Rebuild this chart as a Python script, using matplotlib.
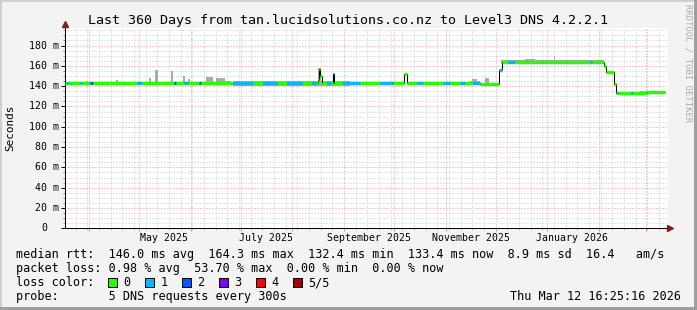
import datetime as dt
from bisect import bisect_right

import matplotlib
matplotlib.use("Agg")
import matplotlib.pyplot as plt
import matplotlib.dates as mdates
from matplotlib.patches import Rectangle
from matplotlib.ticker import MultipleLocator
from matplotlib.transforms import ScaledTranslation

# %%
# chart data

TITLE = "Last 360 Days from tan.lucidsolutions.co.nz to Level3 DNS 4.2.2.1"
START = dt.datetime(2025, 3, 17, 16, 25, 16)
SPAN_DAYS = 361.8

# median rtt in ms, step series: edges are day offsets from START
MEDIAN_EDGES = [0.0, 100.8, 151.8, 152.4, 153.0, 154.2, 160.5, 161.1, 203.1, 204.9,
                249.0, 260.1, 261.9, 323.6, 324.6, 329.6, 330.4, 349.2, 360.0]
MEDIAN_MS = [143.5, 142.8, 146.0, 157.0, 150.5, 142.8, 151.5, 142.8, 152.0,
             142.8, 142.0, 156.0, 164.0, 160.0, 154.0, 142.0, 133.0, 134.0]

# periods with packet loss (everything else is loss 0)
LOSS_START = [1.0, 9.0, 15.0, 43.2, 65.4, 71.4, 80.4, 100.8, 118.8, 133.2, 148.2, 157.2,
              160.5, 166.8, 189.0, 196.2, 211.2, 226.8, 237.0, 244.8, 260.1, 265.8,
              315.0, 331.0, 339.6]
LOSS_END = [2.4, 10.2, 16.6, 46.2, 66.6, 73.8, 81.6, 112.8, 127.2, 142.2, 150.6, 159.6,
            161.1, 177.0, 196.2, 196.8, 214.8, 231.0, 240.0, 249.0, 261.9, 270.0,
            316.2, 332.0, 340.8]
LOSS_LEVEL = [1, 1, 2, 1, 2, 1, 2, 1, 1, 1, 1, 1,
              2, 1, 1, 2, 1, 1, 1, 1, 1, 1,
              1, 1, 1]

# smoke (spread of the single pings) in ms
SMOKE_START = [12.6, 30.6, 50.4, 54.0, 63.6, 70.8, 73.8, 84.6, 90.6, 96.0, 100.8, 151.8,
               243.0, 244.2, 252.0, 261.6, 262.0, 276.0, 293.4, 330.4, 345.0]
SMOKE_END = [13.8, 31.8, 51.6, 55.8, 64.8, 72.0, 75.0, 88.8, 96.0, 99.0, 171.0, 153.6,
             249.0, 247.2, 254.4, 267.6, 323.6, 282.0, 294.0, 360.0, 360.0]
SMOKE_LOW = [142.0, 142.0, 142.0, 142.0, 142.0, 142.0, 142.0, 142.0, 142.0, 142.0, 140.5, 143.0,
             141.0, 141.0, 141.0, 162.0, 162.5, 162.0, 162.0, 132.0, 132.0]
SMOKE_HIGH = [145.5, 146.0, 147.7, 156.0, 155.0, 150.0, 147.0, 148.7, 148.0, 145.5, 145.5, 157.5,
              145.5, 147.0, 147.7, 166.0, 165.5, 166.8, 169.8, 134.5, 135.5]

LOSS_COLORS = ["#26ff00", "#00b8ff", "#0059ff", "#7e00ff", "#ff0000", "#a10000"]
LOSS_LABELS = ["0", "1", "2", "3", "4", "5/5"]

Y_TICKS = [0, 20, 40, 60, 80, 100, 120, 140, 160, 180]
Y_MAX = 197.6
MONTH_LABELS = ["May 2025", "July 2025", "September 2025", "November 2025", "January 2026"]
MONTH_LABEL_DATES = [dt.datetime(2025, 5, 16), dt.datetime(2025, 7, 16), dt.datetime(2025, 9, 16),
                     dt.datetime(2025, 11, 16), dt.datetime(2026, 1, 16)]

LEGEND_LINES = [
    "median rtt:  146.0 ms avg  164.3 ms max  132.4 ms min  133.4 ms now  8.9 ms sd  16.4   am/s",
    "packet loss: 0.98 % avg  53.70 % max  0.00 % min  0.00 % now",
    "loss color:",
    "probe:       5 DNS requests every 300s",
]
STAMP = "Thu Mar 12 16:25:16 2026"

# %%
# figure setup

plt.rcParams["font.family"] = ["DejaVu Sans Mono"]
W, H = 697, 310
fig = plt.figure(figsize=(W / 100, H / 100), dpi=100, facecolor="#f3f3f3")

ax = fig.add_axes([65 / W, (H - 228.3) / H, 603 / W, 200.6 / H])
ax.set_facecolor("white")
t0 = mdates.date2num(START)
ax.set_xlim(t0, t0 + SPAN_DAYS)
ax.set_ylim(0, Y_MAX)

# grid
ax.xaxis.set_major_locator(mdates.MonthLocator())
ax.xaxis.set_minor_locator(mdates.WeekdayLocator(byweekday=mdates.MO))
ax.yaxis.set_major_locator(MultipleLocator(20))
ax.yaxis.set_minor_locator(MultipleLocator(5))
ax.grid(which="minor", color="#c8c8c8", lw=0.72, ls=(0, (1, 2)))
ax.grid(which="major", color="#ff9090", lw=0.72, ls=(0, (1, 2)))
ax.set_axisbelow(True)
ax.tick_params(labelbottom=False, labelleft=False)
ax.tick_params(axis="x", which="major", length=2.2, width=0.72, color="#ff8080")
ax.tick_params(axis="x", which="minor", length=1.4, width=0.72, color="#c0c0c0")
ax.tick_params(axis="y", which="major", length=2.9, width=0.72, color="black")
ax.tick_params(axis="y", which="minor", length=1.4, width=0.72, color="#909090")
for side in ("top", "right"):
    ax.spines[side].set_visible(False)
for side in ("left", "bottom"):
    ax.spines[side].set_linewidth(0.72)

# %%
# smoke, median line and loss colours

ax.bar([t0 + s for s in SMOKE_START],
       [h - l for l, h in zip(SMOKE_LOW, SMOKE_HIGH)],
       width=[e - s for s, e in zip(SMOKE_START, SMOKE_END)],
       bottom=SMOKE_LOW, align="edge", color="#a9a9a9", linewidth=0, zorder=2)

ax.stairs(MEDIAN_MS, [t0 + d for d in MEDIAN_EDGES], baseline=None,
          color="black", lw=0.72, zorder=3)

edges = sorted(set(MEDIAN_EDGES + LOSS_START + LOSS_END))
seg_y, seg_x0, seg_x1, seg_c = [], [], [], []
for a, b in zip(edges[:-1], edges[1:]):
    mid = (a + b) / 2
    i = bisect_right(MEDIAN_EDGES, mid) - 1
    if i >= len(MEDIAN_MS):
        continue
    level = 0
    for s, e, l in zip(LOSS_START, LOSS_END, LOSS_LEVEL):
        if s <= mid < e:
            level = l
    seg_y.append(MEDIAN_MS[i])
    seg_x0.append(t0 + a)
    seg_x1.append(t0 + b)
    seg_c.append(LOSS_COLORS[level])
ax.hlines(seg_y, seg_x0, seg_x1, colors=seg_c, lw=2.5, capstyle="butt", zorder=4)

# axis arrows
arrow_c = "#8b1c1c"
ax.plot([0], [1], marker="^", ms=4.3, color=arrow_c, clip_on=False, zorder=6,
        transform=ax.transAxes + ScaledTranslation(0, 0.035, fig.dpi_scale_trans))
ax.plot([1], [0], marker=">", ms=4.3, color=arrow_c, clip_on=False, zorder=6,
        transform=ax.transAxes + ScaledTranslation(0.023, 0, fig.dpi_scale_trans))

# y labels (zero has no unit, so it sits further left)
for v in Y_TICKS:
    label = f"{v} m" if v else "0"
    shift = -0.057 if v else -0.175
    ax.text(0, v, label, ha="right", va="center", fontsize=7.1,
            transform=ax.get_yaxis_transform() + ScaledTranslation(shift, 0, fig.dpi_scale_trans))

for d, label in zip(MONTH_LABEL_DATES, MONTH_LABELS):
    ax.text(mdates.date2num(d), 0, label, ha="center", va="baseline", fontsize=7.1,
            transform=ax.get_xaxis_transform() + ScaledTranslation(0, -0.127, fig.dpi_scale_trans))

# %%
# texts and frame around the plot, in pixel coordinates

ov = fig.add_axes([0, 0, 1, 1], zorder=5)
ov.set_xlim(0, W)
ov.set_ylim(H, 0)
ov.axis("off")

ov.text(347.5, 24, TITLE, ha="center", va="baseline", fontsize=9.6)
ov.text(10.5, 128, "Seconds", rotation=90, ha="center", va="center", fontsize=7.9)
ov.text(688.3, 63.5, "RRDTOOL / TOBI OETIKER", rotation=270, ha="center", va="center",
        fontsize=6.4, color="#ababab")

for k, line in enumerate(LEGEND_LINES):
    ov.text(16, 258 + 14 * k, line, ha="left", va="baseline", fontsize=8.5)
ov.text(681, 300, STAMP, ha="right", va="baseline", fontsize=8.5)

for k, (c, lab) in enumerate(zip(LOSS_COLORS, LOSS_LABELS)):
    x = 108.3 + 37 * k
    ov.add_patch(Rectangle((x, 278), 8.5, 8.5, facecolor=c, edgecolor="black", lw=0.72))
    ov.text(x + 15, 286, lab, ha="left", va="baseline", fontsize=8.5)

# shaded border
ov.add_patch(Rectangle((0, 0), W, 2, color="#cfcfcf", lw=0))
ov.add_patch(Rectangle((0, 0), 2, H, color="#cfcfcf", lw=0))
ov.add_patch(Rectangle((0, H - 3), W, 3, color="#9e9e9e", lw=0))
ov.add_patch(Rectangle((W - 3, 0), 3, H, color="#9e9e9e", lw=0))

fig.savefig("out.png", dpi=100, facecolor=fig.get_facecolor())
